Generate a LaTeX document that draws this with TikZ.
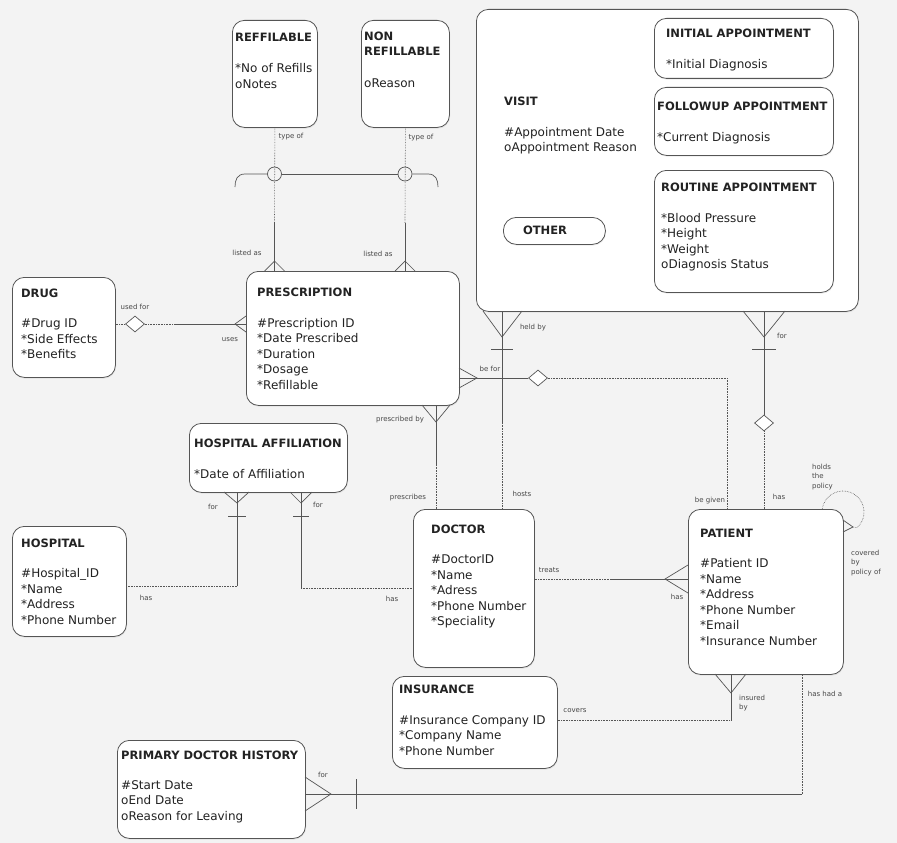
\documentclass[tikz,border=0pt]{standalone}
\usepackage{fontspec}
\setmainfont{DejaVu Sans}
\usetikzlibrary{calc,shapes.geometric,shadows}
\definecolor{bggray}{HTML}{F3F3F3}
\definecolor{lngray}{HTML}{555555}
\definecolor{txtgray}{HTML}{222222}
\newcommand{\ttl}[1]{{\fontsize{11.5}{15.5}\selectfont\bfseries #1}}
\tikzset{
  entity/.style={draw=lngray, fill=white, rounded corners=12pt, line width=0.8pt,
    anchor=north west, inner sep=0pt,
    drop shadow={opacity=0.15, shadow xshift=0.6pt, shadow yshift=-1.2pt}},
  etext/.style={anchor=north west, inner sep=0pt, align=left, text=txtgray,
    font=\fontsize{12}{15.5}\selectfont},
  rel/.style={draw=lngray, line width=0.7pt},
  opt/.style={draw=lngray, line width=0.6pt, densely dotted},
  reldia/.style={diamond, draw=lngray, fill=white, line width=0.7pt,
    minimum width=19pt, minimum height=16pt, inner sep=0pt},
  subcirc/.style={circle, draw=lngray, line width=0.7pt, minimum size=14pt, inner sep=0pt},
  lbl/.style={font=\fontsize{7}{9.5}\selectfont, text=black!72, inner sep=0pt, align=left}
}

\begin{document}
\begin{tikzpicture}[x=1pt, y=-1pt]
      \fill[bggray] (0,0) rectangle (897,843);
      \useasboundingbox (0,0) rectangle (897,843);

      % Entities
      \node[entity, minimum width=85pt, minimum height=107pt] (refill) at (232,20) {};
      \node[entity, minimum width=88pt, minimum height=107pt] (nonrefill) at (361,20) {};
      \node[entity, minimum width=103pt, minimum height=100pt] (drug) at (12,277) {};
      \node[entity, minimum width=213pt, minimum height=134pt] (presc) at (246,271) {};
      \node[entity, minimum width=382pt, minimum height=302pt] (visit) at (476,9) {};
      \node[entity, minimum width=179pt, minimum height=60pt, drop shadow={opacity=0}] (initapp) at (654,18) {};
      \node[entity, minimum width=179pt, minimum height=68pt, drop shadow={opacity=0}] (followapp) at (654,87) {};
      \node[entity, minimum width=179pt, minimum height=122pt, drop shadow={opacity=0}] (routineapp) at (654,170) {};
      \node[entity, minimum width=102pt, minimum height=27pt, rounded corners=13pt, drop shadow={opacity=0}] (other) at (503,217) {};
      \node[entity, minimum width=158pt, minimum height=69pt] (hospaff) at (189,423) {};
      \node[entity, minimum width=114pt, minimum height=110pt] (hospital) at (12,526) {};
      \node[entity, minimum width=121pt, minimum height=158pt] (doctor) at (413,509) {};
      \node[entity, minimum width=155pt, minimum height=165pt] (patient) at (688,509) {};
      \node[entity, minimum width=165pt, minimum height=92pt] (insurance) at (392,676) {};
      \node[entity, minimum width=188pt, minimum height=98pt] (pdhist) at (117,740) {};

      % Entity texts
      \node[etext] (refillTxt) at (235,32.5) {\ttl{REFFILABLE}\\[16pt]{*}No of Refills\\oNotes};
      \node[etext] (nonrefillTxt) at (364,31.5) {\ttl{NON}\\\ttl{REFILLABLE}\\[16pt]oReason};
      \node[etext] (drugTxt) at (21,288.5) {\ttl{DRUG}\\[15pt]\#Drug ID\\{*}Side Effects\\{*}Benefits};
      \node[etext] (prescTxt) at (257,287.5) {\ttl{PRESCRIPTION}\\[15.5pt]\#Prescription ID\\{*}Date Prescribed\\{*}Duration\\{*}Dosage\\{*}Refillable};
      \node[etext] (visitTxt) at (504,96.5) {\ttl{VISIT}\\[15.5pt]\#Appointment Date\\oAppointment Reason};
      \node[etext] (initTxt) at (666,28.5) {\ttl{INITIAL APPOINTMENT}\\[15.5pt]{*}Initial Diagnosis};
      \node[etext] (followTxt) at (657,101.5) {\ttl{FOLLOWUP APPOINTMENT}\\[15.5pt]{*}Current Diagnosis};
      \node[etext] (routineTxt) at (661,182.5) {\ttl{ROUTINE APPOINTMENT}\\[15.5pt]{*}Blood Pressure\\{*}Height\\{*}Weight\\oDiagnosis Status};
      \node[font=\fontsize{11.5}{13}\selectfont\bfseries, text=txtgray, inner sep=0pt] (otherTxt) at (545,230.5) {OTHER};
      \node[etext] (hospaffTxt) at (194,438.5) {\ttl{HOSPITAL AFFILIATION}\\[16pt]{*}Date of Affiliation};
      \node[etext] (hospitalTxt) at (21,538.5) {\ttl{HOSPITAL}\\[15pt]\#Hospital\_ID\\{*}Name\\{*}Address\\{*}Phone Number};
      \node[etext] (doctorTxt) at (431,524.5) {\ttl{DOCTOR}\\[15pt]\#DoctorID\\{*}Name\\{*}Adress\\{*}Phone Number\\{*}Speciality};
      \node[etext] (patientTxt) at (700,528.5) {\ttl{PATIENT}\\[15pt]\#Patient ID\\{*}Name\\{*}Address\\{*}Phone Number\\{*}Email\\{*}Insurance Number};
      \node[etext] (insuranceTxt) at (399,684.5) {\ttl{INSURANCE}\\[15.5pt]\#Insurance Company ID\\{*}Company Name\\{*}Phone Number};
      \node[etext] (pdhistTxt) at (121,750.5) {\ttl{PRIMARY DOCTOR HISTORY}\\[14.5pt]\#Start Date\\oEnd Date\\oReason for Leaving};

      % Subtype circles and brace
      \node[subcirc] (subL) at (274.5,174) {};
      \node[subcirc] (subR) at (405,174) {};
      \coordinate (braceL) at (235,187);
      \coordinate (braceR) at (438,187);
      \draw[rel] (subL.east) -- (subR.west);
      \draw[rel] (subL.west) -- (245,174) .. controls (237,174) and (235,180) .. (braceL);
      \draw[rel] (subR.east) -- (428,174) .. controls (436,174) and (438,180) .. (braceR);

      % Refillable / non refillable -> prescription
      \coordinate (jL) at (274.5,223);
      \coordinate (jR) at (405,223);
      \draw[opt] (refill.south) -- (jL);
      \draw[opt] (nonrefill.south) -- (jR);
      \draw[rel] (jL) -- (presc.north -| jL);
      \draw[rel] (jR) -- (presc.north -| jR);
      \coordinate (cfL) at (274.5,261);
      \coordinate (cfR) at (405,261);
      \draw[rel] (cfL) ++(-10,10) -- (cfL) -- ++(10,10);
      \draw[rel] (cfR) ++(-10,10) -- (cfR) -- ++(10,10);

      % Drug - prescription
      \node[reldia] (usedia) at (135,324) {};
      \coordinate (useJ) at (175,324);
      \coordinate (useCF) at (235,324);
      \draw[opt] (drug.east |- usedia) -- (usedia.west);
      \draw[opt] (usedia.east) -- (useJ);
      \draw[rel] (useJ) -- (presc.west |- useJ);
      \draw[rel] (useCF) ++(11,-8) -- (useCF) -- ++(11,8);

      % Prescription - patient
      \coordinate (forCF) at (477,378);
      \node[reldia] (fordia) at (538,378) {};
      \coordinate (forJ) at (727,378);
      \draw[rel] (presc.east |- forCF) -- (fordia.west);
      \draw[rel] (forCF) ++(-18,-10) -- (forCF) -- ++(-18,10);
      \draw[opt] (fordia.east) -- (forJ) -- (patient.north -| forJ);

      % Prescription - doctor
      \coordinate (byCF) at (436,422);
      \coordinate (byJ) at (436,465);
      \draw[rel] (presc.south -| byCF) -- (byJ);
      \draw[opt] (byJ) -- (doctor.north -| byJ);
      \draw[rel] (byCF) ++(-14,-17) -- (byCF) -- ++(14,-17);

      % Visit - doctor
      \coordinate (heldCF) at (502,337);
      \coordinate (heldJ) at (502,423);
      \draw[rel] (visit.south -| heldCF) -- (heldJ);
      \draw[opt] (heldJ) -- (doctor.north -| heldJ);
      \draw[rel] (heldCF) ++(-19,-26) -- (heldCF) -- ++(20,-26);
      \draw[rel] (heldCF) ++(-11,12) -- ++(22,0);

      % Visit - patient
      \coordinate (vforCF) at (764,337);
      \node[reldia] (vfordia) at (764,423) {};
      \draw[rel] (visit.south -| vfordia) -- (vfordia.north);
      \draw[opt] (vfordia.south) -- (patient.north -| vfordia);
      \draw[rel] (vforCF) ++(-21,-26) -- (vforCF) -- ++(21,-26);
      \draw[rel] (vforCF) ++(-12,12) -- ++(24,0);

      % Hospital affiliation - hospital / doctor
      \coordinate (haLCF) at (237,503);
      \coordinate (haLJ) at (237,586);
      \draw[rel] (hospaff.south -| haLJ) -- (haLJ);
      \draw[opt] (haLJ) -- (hospital.east |- haLJ);
      \draw[rel] (haLCF) ++(-13,-11) -- (haLCF) -- ++(12,-11);
      \draw[rel] (haLCF) ++(-9,13) -- ++(18,0);
      \coordinate (haRCF) at (301,503);
      \coordinate (haRJ) at (301,588);
      \draw[rel] (hospaff.south -| haRJ) -- (haRJ);
      \draw[opt] (haRJ) -- (doctor.west |- haRJ);
      \draw[rel] (haRCF) ++(-11,-11) -- (haRCF) -- ++(11,-11);
      \draw[rel] (haRCF) ++(-8,13) -- ++(16,0);

      % Doctor - patient
      \coordinate (treatJ) at (610,579);
      \coordinate (treatCF) at (665,579);
      \draw[opt] (doctor.east |- treatJ) -- (treatJ);
      \draw[rel] (treatJ) -- (patient.west |- treatJ);
      \draw[rel] (treatCF) ++(23,-14) -- (treatCF) -- ++(23,14);

      % Insurance - patient
      \coordinate (insJ) at (731,720);
      \coordinate (insCF) at (731,693);
      \draw[opt] (insurance.east |- insJ) -- (insJ);
      \draw[rel] (insJ) -- (patient.south -| insJ);
      \draw[rel] (insCF) ++(-16,-19) -- (insCF) -- ++(15,-19);

      % Primary doctor history - patient
      \coordinate (pdhJ) at (802,794);
      \coordinate (pdhCF) at (331,794);
      \draw[rel] (pdhist.east |- pdhJ) -- (pdhJ);
      \draw[opt] (pdhJ) -- (patient.south -| pdhJ);
      \draw[rel] (pdhCF) ++(-26,-17) -- (pdhCF) -- ++(-26,17);
      \draw[rel] (pdhCF) ++(25,-15) -- ++(0,30);

      % Patient self relation
      \coordinate (loopC) at (843,512);
      \coordinate (loopCF) at (853,527);
      \draw[opt] ($(loopC)+(171:21pt)$) arc[start angle=171, end angle=-48, radius=21pt] -- (loopCF);
      \draw[rel] (loopCF) ++(-10,-7) -- (loopCF) -- ++(-10,5);

      % Relationship labels
      \node[lbl] (lbTypeL) at (291,137) {type of};
      \node[lbl] (lbTypeR) at (421,138) {type of};
      \node[lbl] (lbListL) at (247,253) {listed as};
      \node[lbl] (lbListR) at (378,254) {listed as};
      \node[lbl] (lbUsedFor) at (135,307) {used for};
      \node[lbl] (lbUses) at (230,340) {uses};
      \node[lbl] (lbHeldBy) at (533,328) {held by};
      \node[lbl] (lbHosts) at (522,494) {hosts};
      \node[lbl] (lbVFor) at (782,336) {for};
      \node[lbl] (lbVHas) at (779,497) {has};
      \node[lbl] (lbBeFor) at (490,369) {be for};
      \node[lbl] (lbBeGiven) at (710,501) {be given};
      \node[lbl] (lbPrescBy) at (400,420) {prescribed by};
      \node[lbl] (lbPrescribes) at (408,498) {prescribes};
      \node[lbl] (lbHaForL) at (213,507) {for};
      \node[lbl] (lbHaHasL) at (146,598) {has};
      \node[lbl] (lbHaForR) at (318,505) {for};
      \node[lbl] (lbHaHasR) at (392,599) {has};
      \node[lbl] (lbTreats) at (549,570) {treats};
      \node[lbl] (lbPHas) at (677,597) {has};
      \node[lbl] (lbCovers) at (575,711) {covers};
      \node[lbl, anchor=west] (lbInsured) at (739,703) {insured\\by};
      \node[lbl] (lbHasHad) at (825,694) {has had a};
      \node[lbl] (lbPdhFor) at (323,775) {for};
      \node[lbl, anchor=west] (lbHolds) at (812,477) {holds\\the\\policy};
      \node[lbl, anchor=west] (lbCovered) at (851,563) {covered\\by\\policy of};
    \end{tikzpicture}
\end{document}
